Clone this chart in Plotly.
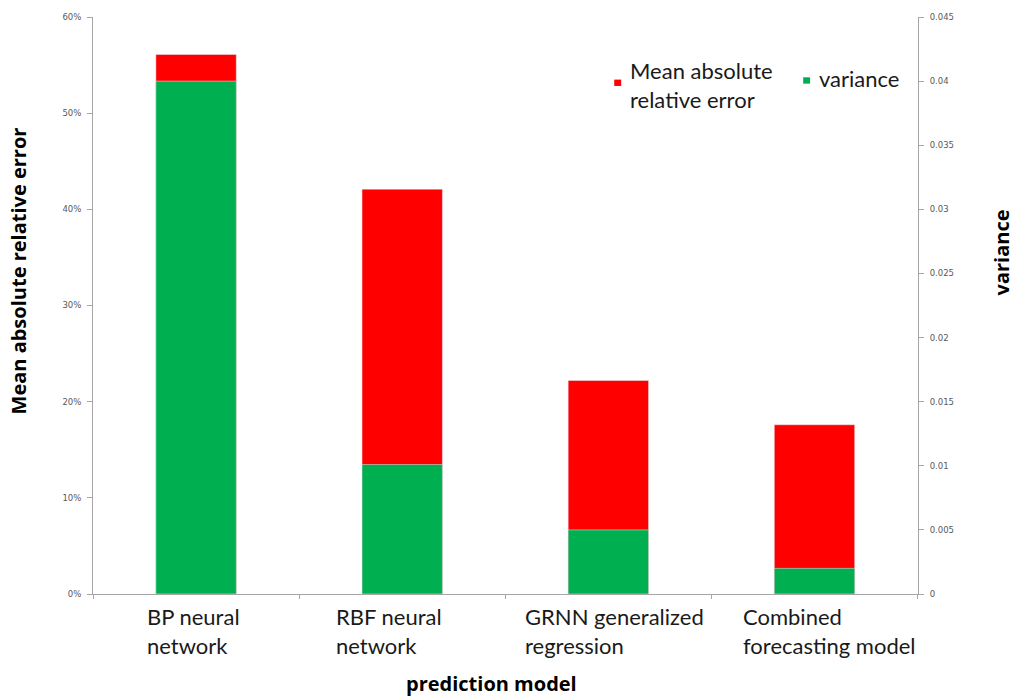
import plotly.graph_objects as go

# Prediction models compared
models = ["BP neural<br>network", "RBF neural<br>network",
          "GRNN generalized<br>regression", "Combined<br>forecasting model"]
model_keys = ["BP", "RBF", "GRNN", "Combined"]

# Mean absolute relative error (%) and variance for each model
mare_pct = [56.1, 42.1, 22.2, 17.6]
variance = [0.040, 0.0101, 0.0050, 0.0020]

series_names = ["Mean absolute<br>relative error", "variance"]
series_colors = ["#ff0000", "#00b050"]

left_ticks = [0, 10, 20, 30, 40, 50, 60]
left_tick_text = ["0%", "10%", "20%", "30%", "40%", "50%", "60%"]
right_ticks = [0, 0.005, 0.01, 0.015, 0.02, 0.025, 0.03, 0.035, 0.04, 0.045]
right_tick_text = ["0", "0.005", "0.01", "0.015", "0.02", "0.025", "0.03", "0.035", "0.04", "0.045"]

fig = go.Figure()
fig.add_trace(go.Bar(x=model_keys, y=mare_pct, name=series_names[0],
                     marker_color=series_colors[0], width=0.39, yaxis="y"))
fig.add_trace(go.Bar(x=model_keys, y=variance, name=series_names[1],
                     marker_color=series_colors[1], width=0.39, yaxis="y2"))

tick_font = dict(family="DejaVu Sans", size=8.5, color="#595959")
axis_grey = "#a6a6a6"

fig.update_layout(
    width=1017, height=698,
    margin=dict(l=93, r=99, t=14, b=104),
    paper_bgcolor="white", plot_bgcolor="white",
    barmode="overlay",
    showlegend=False,
    xaxis=dict(type="category", tickson="boundaries", ticks="outside", ticklen=4,
               tickcolor=axis_grey, showline=True, linecolor=axis_grey, linewidth=1,
               showticklabels=False, showgrid=False, zeroline=False),
    yaxis=dict(range=[0, 60], tickvals=left_ticks, ticktext=left_tick_text, ticks="outside",
               ticklen=5, tickcolor=axis_grey, showline=True, linecolor=axis_grey,
               linewidth=1, showgrid=False, zeroline=False, tickfont=tick_font,
               ticklabelstandoff=4),
    yaxis2=dict(range=[0, 0.045], tickvals=right_ticks, ticktext=right_tick_text,
                overlaying="y", side="right", ticks="outside", ticklen=5,
                tickcolor=axis_grey, showline=True, linecolor=axis_grey, linewidth=1,
                showgrid=False, zeroline=False, tickfont=tick_font,
                ticklabelstandoff=4),
)

label_font = dict(family="Lato", size=22, color="#1a1a1a")
label_shift = [-3, -13, 6, 15]

# Category labels under each bar, left-aligned block
for key, label, dx in zip(model_keys, models, label_shift):
    fig.add_annotation(x=key, xref="x", y=0, yref="paper", yshift=-7, xshift=dx,
                       text=label, showarrow=False, align="left",
                       xanchor="center", yanchor="top", font=label_font)

title_font = dict(family="Open Sans", size=20, color="#000000")
fig.add_annotation(text="<b>prediction model</b>", xref="paper", yref="paper",
                   x=0.483, y=0, yshift=-74, xanchor="center", yanchor="top",
                   showarrow=False, font=title_font)
fig.add_annotation(text="<b>Mean absolute relative error</b>", xref="paper", yref="paper",
                   x=0, xshift=-75, y=0.559, xanchor="center", yanchor="middle",
                   textangle=-90, showarrow=False, font=title_font)
fig.add_annotation(text="<b>variance</b>", xref="paper", yref="paper",
                   x=1, xshift=83, y=0.592, xanchor="center", yanchor="middle",
                   textangle=-90, showarrow=False, font=title_font)

# Legend: small colored squares with labels
legend_font = dict(family="Lato", size=22, color="#1a1a1a")
legend_items = [(0.636, 0.886, 0.882, series_names[0]), (0.865, 0.89, 0.893, series_names[1])]
for (lx, ly, ty, name), color in zip(legend_items, series_colors):
    fig.add_shape(type="rect", xref="paper", yref="paper",
                  x0=lx - 0.0042, x1=lx + 0.0042, y0=ly - 0.0055, y1=ly + 0.0055,
                  line_width=0, fillcolor=color)
    fig.add_annotation(text=name, xref="paper", yref="paper", x=lx + 0.012, y=ty,
                       xanchor="left", yanchor="middle", align="left",
                       showarrow=False, font=legend_font)

fig.write_html("out.html")
